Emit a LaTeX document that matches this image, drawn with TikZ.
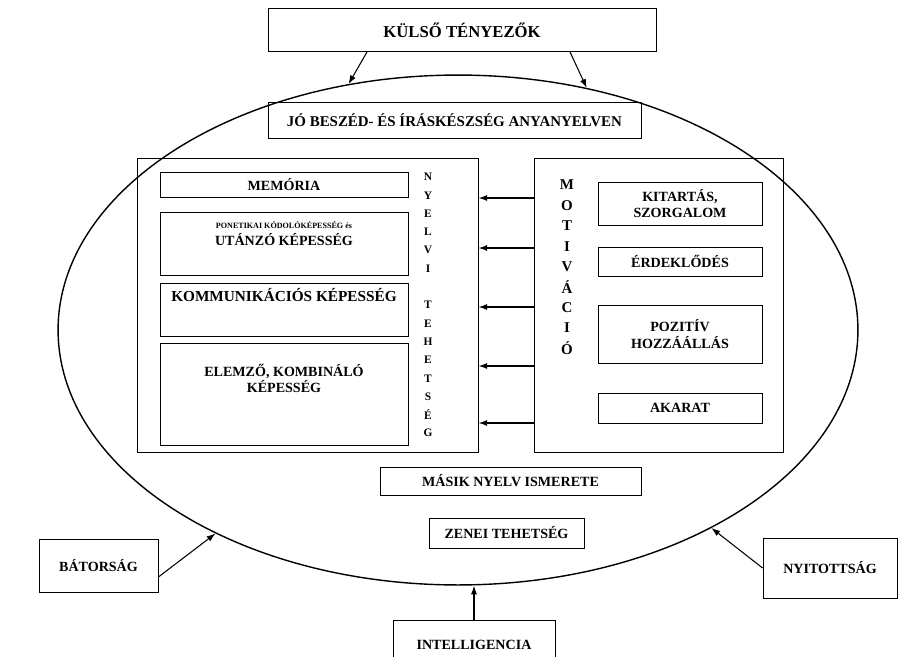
\documentclass[tikz,border=0pt]{standalone}
\usepackage{fontspec}
\setmainfont{Liberation Serif}
\usetikzlibrary{shapes.geometric,positioning,arrows.meta}
\tikzset{
  box/.style={draw, line width=0.5pt, inner sep=0pt, align=center, font=\bfseries\fontsize{8}{9.5}\selectfont},
  txt/.style={inner sep=0pt, align=center, font=\bfseries\fontsize{8}{9.5}\selectfont},
  arr/.style={-{Latex[length=5pt,width=3.5pt]}, line width=0.6pt},
}
\begin{document}
\begin{tikzpicture}[x=0.02cm, y=-0.02cm]
        \clip (0,0) rectangle (899,656);
        \node [draw, ellipse, line width=0.8pt, inner sep=0pt, minimum width=16cm, minimum height=10.2cm] (ell) at (458,330) {};
        \node [box, minimum width=7.76cm, minimum height=0.86cm, font=\bfseries\fontsize{9.5}{11}\selectfont] (kulso) at (462,30) {KÜLSŐ TÉNYEZŐK};
        \draw [arr] ([xshift=-1.9cm]kulso.south) -- (ell.114);            %
        \draw [arr] ([xshift=2.16cm]kulso.south) -- (ell.62);             %
        \node [box, minimum width=7.46cm, minimum height=0.72cm, font=\bfseries\fontsize{8.5}{10}\selectfont] (anya) at (454.5,120) {JÓ BESZÉD- ÉS ÍRÁSKÉSZSÉG ANYANYELVEN};
        %nyelvi tehetseg
        \node [box, minimum width=6.82cm, minimum height=5.88cm] (nyelvi) at (307.5,305) {};
        \node [box, minimum width=4.96cm, minimum height=0.5cm] (mem) at (284,184.5) {MEMÓRIA};
        \node [box, minimum width=4.96cm, minimum height=1.26cm] (fon) at (284,243.5) {};
        \node [txt, below=0.2cm of fon.north] (fontxt) {{\fontsize{4.6}{5.5}\selectfont PONETIKAI KÓDOLÓKÉPESSÉG és}\\UTÁNZÓ KÉPESSÉG};
        \node [box, minimum width=4.96cm, minimum height=1.06cm] (komm) at (284,309.5) {};
        \node [txt, below=0.1cm of komm.north, font=\bfseries\fontsize{8.7}{10}\selectfont] (kommtxt) {KOMMUNIKÁCIÓS KÉPESSÉG};
        \node [box, minimum width=4.96cm, minimum height=2.04cm] (elem) at (284,394) {};
        \node [txt, below=0.42cm of elem.north] (elemtxt) {ELEMZŐ, KOMBINÁLÓ\\KÉPESSÉG};
        \foreach \l [count=\i] in {N,Y,E,L,V,I,{},T,E,H,E,T,S,É,G}
          \node [txt, font=\bfseries\fontsize{6.5}{7}\selectfont] (ny\i) at (428,{177+18.3*(\i-1)}) {\l};
        %motivacio
        \node [box, minimum width=4.98cm, minimum height=5.88cm] (motiv) at (658.5,305) {};
        \foreach \l [count=\i] in {M,O,T,I,V,Á,C,I,Ó}
          \node [txt, font=\bfseries\fontsize{8.5}{9}\selectfont] (mo\i) at (567,{185+20.4*(\i-1)}) {\l};
        \node [box, minimum width=3.28cm, minimum height=0.86cm] (kit) at (680,203.5) {KITARTÁS,\\SZORGALOM};
        \node [box, minimum width=3.28cm, minimum height=0.58cm] (erd) at (680,261.5) {ÉRDEKLŐDÉS};
        \node [box, minimum width=3.28cm, minimum height=1.16cm] (poz) at (680,334) {POZITÍV\\HOZZÁÁLLÁS};
        \node [box, minimum width=3.28cm, minimum height=0.6cm] (aka) at (680,408) {AKARAT};
        \foreach \y in {198,248,307,366,423}
          \draw [arr, line width=0.8pt] (motiv.west |- 0,\y) -- (nyelvi.east |- 0,\y);
        %also resz
        \node [box, minimum width=5.22cm, minimum height=0.56cm] (masik) at (510.5,481) {MÁSIK NYELV ISMERETE};
        \node [box, minimum width=3.1cm, minimum height=0.6cm] (zenei) at (506.5,533) {ZENEI TEHETSÉG};
        \node [box, minimum width=2.38cm, minimum height=1.06cm] (bator) at (98.5,565.5) {BÁTORSÁG};
        \node [box, minimum width=2.68cm, minimum height=1.2cm] (nyit) at (830,568) {NYITOTTSÁG};
        \node [box, minimum width=3.24cm, minimum height=1cm] (intel) at (474,645) {INTELLIGENCIA};
        \draw [arr] ([yshift=-0.23cm]bator.east) -- (ell.220);            %
        \draw [arr] (nyit.west) -- (ell.322);                             %
        \draw [arr] (intel.north) -- (intel.north |- ell.south);          %
\end{tikzpicture}
\end{document}
